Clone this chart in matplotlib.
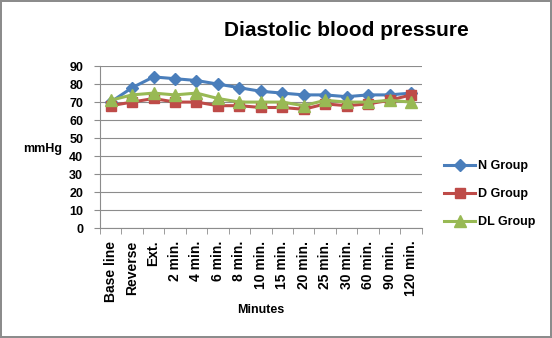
import matplotlib
matplotlib.use('Agg')
import matplotlib.pyplot as plt
import numpy as np

plt.rcParams['font.family'] = ['Liberation Sans', 'DejaVu Sans']

categories = ['Base line', 'Reverse', 'Ext.', '2 min.', '4 min.', '6 min.', '8 min.',
              '10 min.', '15 min.', '20 min.', '25 min.', '30 min.', '60 min.',
              '90 min.', '120 min.']
n_group = [70, 78, 84, 83, 82, 80, 78, 76, 75, 74, 74, 73, 74, 74, 75]
d_group = [68, 70, 72, 70, 70, 68, 68, 67, 67, 66, 69, 68, 69, 71, 74]
dl_group = [71, 74, 75, 74, 75, 72, 70, 70, 70, 68, 71, 70, 70, 71, 70]

fig = plt.figure(figsize=(5.52, 3.38), dpi=100)
fig.patch.set_edgecolor('#8c8c8c')
fig.patch.set_linewidth(1.5)
ax = fig.add_axes([0.181, 0.3254, 0.583, 0.479])

x = np.arange(len(categories))
ax.plot(x, n_group, color='#4a7ebb', lw=2.2, marker='D', ms=6, label='N Group')
ax.plot(x, d_group, color='#be4b48', lw=2.2, marker='s', ms=7.5, label='D Group')
ax.plot(x, dl_group, color='#98b954', lw=2.2, marker='^', ms=8, label='DL Group')

ax.set_xlim(-0.5, len(categories) - 0.5)
ax.set_ylim(0, 90)
ax.set_yticks(range(0, 91, 10))
ax.yaxis.grid(True, color='#8c8c8c', lw=0.8)
ax.set_axisbelow(True)
ax.set_xticks(x)
ax.set_xticklabels(categories, rotation=90, fontsize=10, fontweight='bold')
ax.set_xticks(np.arange(-0.5, len(categories), 1), minor=True)
ax.tick_params(axis='x', which='major', length=0, pad=9)
ax.tick_params(axis='x', which='minor', length=4, color='#8c8c8c')
ax.tick_params(axis='y', length=4, color='#8c8c8c', labelsize=9, pad=8)
for lab in ax.get_yticklabels():
    lab.set_fontweight('bold')
for side in ['top', 'right']:
    ax.spines[side].set_visible(False)
for side in ['left', 'bottom']:
    ax.spines[side].set_color('#8c8c8c')

fig.text(261 / 552, 1 - 310 / 338, 'Minutes', fontsize=9, fontweight='bold',
         ha='center', va='center')
fig.text(43 / 552, 1 - 149 / 338, 'mmHg', fontsize=9, fontweight='bold',
         ha='center', va='center')
fig.text(346 / 552, 1 - 30 / 338, 'Diastolic blood pressure', fontsize=15,
         fontweight='bold', ha='center', va='center')

leg = fig.legend(loc='upper left', bbox_to_anchor=(444 / 552, 1 - 160 / 338),
                 frameon=False, prop={'size': 9, 'weight': 'bold'},
                 labelspacing=1.3, handlelength=2.5, handletextpad=0.25,
                 borderpad=0, borderaxespad=0)

fig.savefig('out.png', dpi=100)
